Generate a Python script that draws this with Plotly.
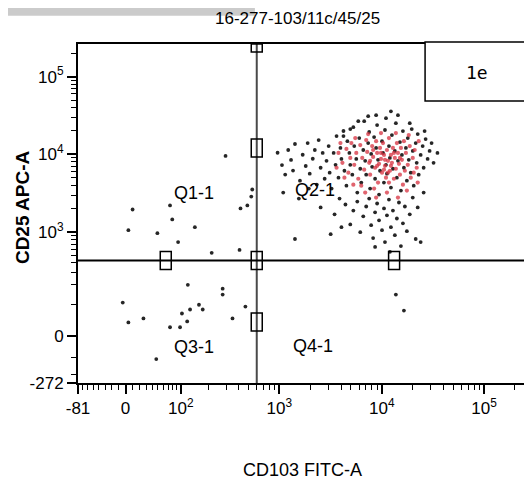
import numpy as np
import plotly.graph_objects as go

# ---------------- data (fluorescence values) ----------------
cd103_gray = [960, 1060, 1140, 1220, 1300, 1360, 1420, 1590, 1690, 1810,
              1890, 1980, 2120, 2220, 2320, 2420, 2530, 2650, 2770, 2890,
              3030, 3100, 3240, 3390, 3540, 3620, 3780, 3950, 4040, 4230,
              4320, 4520, 4620, 4830, 4930, 5160, 5280, 5390, 5640, 5770,
              6030, 6170, 6310, 6600, 6740, 6890, 7050, 7370, 7540, 7700,
              7880, 8060, 8420, 8610, 8810, 9010, 9200, 9410, 9620, 10060,
              10300, 10500, 10750, 11000, 11240, 11760, 12000, 12300, 12570, 12860,
              13430, 13740, 14050, 14400, 15060, 15390, 15740, 16100, 16460, 17210,
              17600, 17960, 18360, 19200, 19630, 20080, 20530, 21460, 21950, 22450,
              22950, 24000, 25100, 25660, 26830, 28060, 29340, 30670, 32070, 35000,
              2530, 3460, 3870, 4420, 4930, 5280, 5770, 6170, 6600, 7050,
              7540, 7880, 8240, 8610, 9010, 9410, 10060, 10520, 10750, 11240,
              11760, 12290, 12860, 13430, 14050, 14720, 15390, 16100, 16820, 17600,
              18780, 20080, 21460, 22450, 24000, 25660,
              7370, 4930, 4230, 11000, 14400, 18780, 26220, 5900, 12290, 8810,
              1420, 3170, 4040, 1090, 1550, 1940, 8610, 12020,
              10, 4, 49, 79, 74, 143, 93, 214, 406, 485, 542, 530, 295, 415,
              120, 276, 276, -4, 464, 158, 173, 127, 103, 26, 4, 346, 118, 74, 98, 47,
              13740, 16460]
cd25_gray = [10500, 7300, 5500, 11400, 8500, 6200, 13600, 4600, 9900, 7100,
             14000, 5650, 8800, 11400, 4100, 15300, 6740, 10450, 4870, 8260,
             12800, 5820, 3640, 10450, 7350, 17200, 5020, 12100, 8760, 20000,
             6170, 3970, 14800, 10450, 7350, 5490, 22400, 12800, 8760, 3230,
             16200, 6540, 4340, 11400, 26700, 8260, 5490, 14000, 19400, 3640,
             10150, 6920, 16700, 4870, 12100, 23800, 8510, 3050, 6170, 14800,
             10450, 4340, 20600, 7350, 5650, 12800, 9020, 3750, 17700, 6540,
             11080, 25200, 5020, 8260, 14400, 3430, 9860, 19960, 6740, 12100,
             4600, 16200, 8510, 5820, 21170, 11080, 3970, 14000, 7790, 18250,
             5490, 9860, 12800, 6740, 15730, 8760, 11080, 14000, 7790, 10450,
             2080, 1700, 2710, 2270, 1260, 1900, 2480, 1000, 1600, 2140,
             2710, 1230, 840, 1800, 2340, 1420, 1060, 2020, 745, 1650,
             2630, 1160, 1900, 916, 1500, 2410, 662, 1300, 2140, 1030,
             1700, 2790, 816, 2080, 745, 3230,
             31000, 21170, 17200, 29200, 31900, 25200, 19960, 26700, 35800, 31900,
             816, 943, 1160, 3230, 2710, 3640, 644, 556,
             1960, 1060, 970, 1460, 2210, 1160, 745, 540, 590, 2210, 3540, 2870, 9570, 2020,
             201, 177, 145, 108, 92, 99, 81, 81, 67, 51, 39, 51, 42, 25, 25, -106,
             145, 77]

cd103_red = [3780, 4130, 4520, 4720, 5050, 5390, 5640, 5900, 6170, 6450,
             6740, 7050, 7210, 7540, 7700, 8060, 8240, 8610, 8810, 9010,
             9200, 9410, 9620, 9830, 10060, 10290, 10520, 10750, 11000, 11240,
             11500, 11760, 12020, 12290, 12570, 12860, 13140, 13430, 13740, 14050,
             14400, 14720, 15060, 15390, 15740, 16460, 16820, 17210, 17960, 18780,
             19200, 20080, 20980, 21950, 22950, 4320, 4930, 5510, 6310, 7370,
             8420, 9830, 11760, 13740, 16100, 18360, 20530, 5280, 6890, 8810,
             11240, 14400, 17600, 22450, 3620, 3950,
             9830, 10750, 9010, 12290, 10520, 8240, 13140, 11500, 7700, 15060]
cd25_red = [10450, 7790, 11750, 5820, 14000, 7350, 10450, 4870, 13200, 9020,
            6360, 15300, 10760, 7790, 5490, 12800, 9290, 6740, 14800, 10450,
            4340, 7560, 12100, 8760, 5820, 14000, 9860, 7130, 5020, 11400,
            8260, 16200, 6170, 9860, 7790, 12100, 4870, 9020, 6540, 14000,
            10450, 7560, 5490, 12100, 8510, 14800, 6170, 10450, 7350, 12800,
            5020, 9020, 11400, 6740, 14800, 5020, 9020, 16200, 3970, 18250,
            3640, 18800, 4340, 18800, 4090, 17700, 5820, 4090, 3230, 2790,
            3230, 2790, 3430, 4340, 6740, 14000,
            10450, 8510, 7130, 7130, 6360, 11400, 10450, 5820, 8260, 9020]

quadrant_names = ["Q1-1", "Q2-1", "Q3-1", "Q4-1"]
quadrant_label_x = [140, 2230, 140, 2150]
quadrant_label_y = [3200, 3500, -47, -42]

gate_cd103 = 600
gate_cd25 = 430

x_tick_vals = [-81, 0, 100, 1000, 10000, 100000]
x_tick_text = ["-81", "0", "10<sup>2</sup>", "10<sup>3</sup>", "10<sup>4</sup>", "10<sup>5</sup>"]
y_tick_vals = [-272, 0, 1000, 10000, 100000]
y_tick_text = ["-272", "0", "10<sup>3</sup>", "10<sup>4</sup>", "10<sup>5</sup>"]
x_min, x_max = -81, 262144
y_min, y_max = -272, 262144

title_text = "16-277-103/11c/45/25"
panel_tag = "1e"

# ---------------- biexponential-like display transform ----------------
def biex(v, c_pos, c_neg):
    v = np.asarray(v, dtype=float)
    return np.where(v >= 0, np.arcsinh(v / c_pos), np.arcsinh(v / c_neg)) / np.log(10)

def fx(v):
    return biex(v, 63.0, 63.0)

def fy(v):
    return biex(v, 92.0, 146.0)

def decades(hi):
    out = []
    e = 2
    while 10 ** e <= hi:
        for m in range(2, 10):
            val = m * 10 ** e
            if val <= hi:
                out.append(val)
        e += 1
    return out

x_minor = list(range(-70, 0, 10)) + list(range(10, 100, 10)) + decades(x_max)
y_minor = [-200, -100, 100, 200, 300, 400, 500, 600, 700, 800, 900] + decades(y_max)[8:]

FONT = "Liberation Sans, Arial, sans-serif"

fig = go.Figure()
fig.add_trace(go.Scatter(x=fx(cd103_gray), y=fy(cd25_gray), mode="markers",
                         marker=dict(size=3.8, color="#262626"), hoverinfo="skip"))
fig.add_trace(go.Scatter(x=fx(cd103_red), y=fy(cd25_red), mode="markers",
                         marker=dict(size=4.2, color="#d7303f", opacity=0.75), hoverinfo="skip"))

axis_common = dict(showgrid=False, zeroline=False, showline=True, linecolor="black",
                   linewidth=2, mirror=True, ticks="outside", ticklen=9, tickwidth=1.5,
                   tickcolor="black", automargin=False,
                   tickfont=dict(family=FONT, size=17, color="black"))

fig.update_xaxes(range=[float(fx(x_min)), float(fx(x_max))],
                 tickvals=fx(x_tick_vals), ticktext=x_tick_text,
                 minor=dict(tickvals=fx(x_minor), ticks="outside", ticklen=5, tickwidth=1, tickcolor="black"),
                 **axis_common)
fig.update_yaxes(range=[float(fy(y_min)), float(fy(y_max))],
                 tickvals=fy(y_tick_vals), ticktext=y_tick_text,
                 minor=dict(tickvals=fy(y_minor), ticks="outside", ticklen=5, tickwidth=1, tickcolor="black"),
                 **axis_common)

shapes = []
# gate lines
shapes.append(dict(type="line", xref="x", yref="paper", x0=float(fx(gate_cd103)), x1=float(fx(gate_cd103)),
                   y0=0, y1=1, line=dict(color="#4a4a4a", width=2)))
shapes.append(dict(type="line", xref="paper", yref="y", x0=0, x1=1.006, y0=float(fy(gate_cd25)),
                   y1=float(fy(gate_cd25)), line=dict(color="black", width=2)))
# gate handles
handles = [(gate_cd103, 12100), (gate_cd103, gate_cd25), (gate_cd103, 40),
           (65, gate_cd25), (13200, gate_cd25)]
for hx, hy in handles:
    shapes.append(dict(type="rect", xref="x", yref="y", xsizemode="pixel", ysizemode="pixel",
                       xanchor=float(fx(hx)), yanchor=float(fy(hy)), x0=-5.5, x1=5.5, y0=-9, y1=9,
                       line=dict(color="black", width=1.5), fillcolor="rgba(0,0,0,0)"))
shapes.append(dict(type="rect", xref="x", yref="y", xsizemode="pixel", ysizemode="pixel",
                   xanchor=float(fx(gate_cd103)), yanchor=float(fy(y_max)), x0=-5.5, x1=5.5, y0=-8, y1=0,
                   line=dict(color="black", width=1.5), fillcolor="rgba(0,0,0,0)"))
shapes.append(dict(type="rect", xref="paper", yref="y", ysizemode="pixel",
                   yanchor=float(fy(gate_cd25)), x0=0.996, x1=1.006, y0=-9, y1=9,
                   line=dict(color="black", width=1.5), fillcolor="rgba(0,0,0,0)"))
# panel tag box
shapes.append(dict(type="rect", xref="paper", yref="paper", x0=0.773, x1=1.004, y0=0.832, y1=1.006,
                   line=dict(color="black", width=1.5), fillcolor="white", layer="above"))
# grey scan band at top-left
shapes.append(dict(type="rect", xref="paper", yref="paper", x0=-0.18, x1=0.394, y0=1.083, y1=1.106,
                   line=dict(width=0), fillcolor="#cbcbcb", layer="below"))

annotations = []
for name, qx, qy in zip(quadrant_names, quadrant_label_x, quadrant_label_y):
    annotations.append(dict(x=float(fx(qx)), y=float(fy(qy)), xref="x", yref="y", text=name,
                            xanchor="center", yanchor="middle",
                            showarrow=False, font=dict(family=FONT, size=18, color="black")))
annotations.append(dict(x=0.889, y=0.917, xref="paper", yref="paper", text=panel_tag, showarrow=False,
                        xanchor="center", yanchor="middle",
                        font=dict(family="DejaVu Sans Mono, Liberation Mono, monospace", size=18, color="black")))
annotations.append(dict(x=0.488, y=1.076, xref="paper", yref="paper", text=title_text, showarrow=False,
                        xanchor="center", yanchor="middle", font=dict(family=FONT, size=17, color="black")))
annotations.append(dict(x=-0.1247, y=0.519, xref="paper", yref="paper", text="<b>CD25 APC-A</b>",
                        textangle=-90, showarrow=False, xanchor="center", yanchor="middle",
                        font=dict(family=FONT, size=19, color="black")))
annotations.append(dict(x=0.5, y=-0.257, xref="paper", yref="paper", text="CD103 FITC-A",
                        showarrow=False, xanchor="center", yanchor="middle",
                        font=dict(family=FONT, size=18, color="black")))

# page has an 8 px body margin, so the figure is 8 px smaller and margins shifted
fig.update_layout(width=524, height=474, margin=dict(l=70, r=5, t=36, b=99),
                  plot_bgcolor="white", paper_bgcolor="white", showlegend=False,
                  shapes=shapes, annotations=annotations)

fig.write_html("out.html")
